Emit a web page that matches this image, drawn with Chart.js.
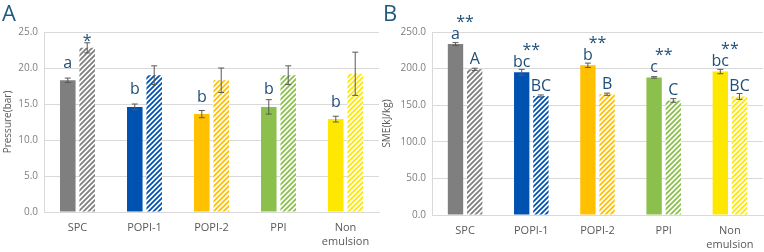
<!DOCTYPE html>
<html>
<head>
<meta charset="utf-8">
<script src="https://cdn.jsdelivr.net/npm/chart.js@4/dist/chart.umd.min.js"></script>
<style>
  body { margin: 0; background: #fff; }
  #wrap { position: relative; width: 764px; height: 252px; overflow: hidden; }
  canvas { position: absolute; top: 0; }
  .panel { position: absolute; top: -3px; font: 22px "Open Sans", sans-serif; color: #1e5a7e; }
</style>
</head>
<body>
<div id="wrap">
  <canvas id="pressureChart" width="380" height="252" style="left:0"></canvas>
  <canvas id="smeChart" width="384" height="252" style="left:380px"></canvas>
  <div class="panel" style="left:2px">A</div>
  <div class="panel" style="left:383px">B</div>
</div>
<script>
const categories = ["SPC", "POPI-1", "POPI-2", "PPI", ["Non", "emulsion"]];
const barColors = ["#7f7f7f", "#0052b0", "#ffc000", "#8cc04c", "#ffe800"];

// Pressure (bar)
const pressureSolid = [18.3, 14.6, 13.6, 14.6, 12.9];
const pressureSolidErr = [0.3, 0.4, 0.5, 1.0, 0.4];
const pressureHatched = [22.8, 19.0, 18.3, 19.0, 19.2];
const pressureHatchedErr = [0.7, 1.3, 1.7, 1.3, 3.0];
const pressureLettersSolid = ["a", "b", "b", "b", "b"];
const pressureLettersHatched = ["*", "", "", "", ""];
const pressureTicks = [0, 5, 10, 15, 20, 25];

// SME (kJ/kg)
const smeSolid = [233.5, 195, 204.5, 188, 196];
const smeSolidErr = [2, 4, 3, 1, 3];
const smeHatched = [199, 162.5, 165, 156.5, 162];
const smeHatchedErr = [1.5, 1.5, 1.5, 2.5, 4];
const smeLettersSolid = ["a", "bc", "b", "c", "bc"];
const smeLettersHatched = ["A", "BC", "B", "C", "BC"];
const smeStars = ["**", "**", "**", "**", "**"];
const smeTicks = [0, 50, 100, 150, 200, 250];

const FONT = "'Open Sans', sans-serif";
const LETTER = "#1f4e79";

function hatch(color) {
  const s = 5;
  const c = document.createElement("canvas");
  c.width = s; c.height = s;
  const g = c.getContext("2d");
  g.fillStyle = "#fff";
  g.fillRect(0, 0, s, s);
  g.strokeStyle = color;
  g.lineWidth = 1.8;
  g.beginPath();
  g.moveTo(0, s); g.lineTo(s, 0);
  g.moveTo(-1, 1); g.lineTo(1, -1);
  g.moveTo(s - 1, s + 1); g.lineTo(s + 1, s - 1);
  g.stroke();
  return g.createPattern(c, "repeat");
}

// error bars + significance letters
function decor(errs, letters, gaps, stars) {
  return {
    id: "decor",
    afterDatasetsDraw(chart) {
      const ctx = chart.ctx;
      const y = chart.scales.y;
      ctx.save();
      chart.data.datasets.forEach((ds, di) => {
        chart.getDatasetMeta(di).data.forEach((bar, i) => {
          const v = ds.data[i], e = errs[di][i];
          const t = y.getPixelForValue(v + e), b = y.getPixelForValue(v - e);
          ctx.strokeStyle = "#595959";
          ctx.lineWidth = 1;
          ctx.beginPath();
          ctx.moveTo(bar.x, t); ctx.lineTo(bar.x, b);
          ctx.moveTo(bar.x - 3, t); ctx.lineTo(bar.x + 3, t);
          ctx.moveTo(bar.x - 3, b); ctx.lineTo(bar.x + 3, b);
          ctx.stroke();
          const txt = letters[di][i];
          if (txt) {
            ctx.fillStyle = LETTER;
            ctx.font = "16px " + FONT;
            ctx.textAlign = "center";
            ctx.textBaseline = "middle";
            ctx.fillText(txt, bar.x, bar.y - gaps[di]);
          }
        });
      });
      if (stars) {
        const m0 = chart.getDatasetMeta(0).data, m1 = chart.getDatasetMeta(1).data;
        stars.forEach((s, i) => {
          const top = Math.min(m0[i].y, m1[i].y);
          ctx.fillStyle = LETTER;
          ctx.font = "16px " + FONT;
          ctx.textAlign = "center";
          ctx.textBaseline = "middle";
          ctx.fillText(s, chart.scales.x.getPixelForValue(i), top - 22);
        });
      }
      ctx.restore();
    }
  };
}

function makeChart(id, solid, hatched, ticks, title, opts) {
  return new Chart(document.getElementById(id), {
    type: "bar",
    data: {
      labels: categories,
      datasets: [
        { data: solid, backgroundColor: barColors },
        { data: hatched, backgroundColor: barColors.map(hatch) }
      ]
    },
    options: {
      responsive: false,
      animation: false,
      devicePixelRatio: 1,
      categoryPercentage: 0.58,
      barPercentage: 0.8,
      layout: { padding: { top: opts.top, right: 1, left: 0, bottom: 0 } },
      plugins: { legend: { display: false }, tooltip: { enabled: false } },
      scales: {
        x: {
          grid: { display: false, drawTicks: false },
          border: { color: "#d9d9d9" },
          ticks: {
            color: "#595959", font: { family: FONT, size: 11, lineHeight: 1.35 },
            padding: opts.xPad, maxRotation: 0
          },
          afterFit: (s) => { s.height = opts.xHeight; }
        },
        y: {
          min: ticks[0],
          max: ticks[ticks.length - 1],
          afterBuildTicks: (s) => { s.ticks = ticks.map((v) => ({ value: v })); },
          grid: { color: "#d9d9d9", drawTicks: false },
          border: { color: "#d9d9d9" },
          ticks: {
            color: "#7f7f7f", font: { family: FONT, size: 10 }, padding: 6,
            callback: (v) => v.toFixed(1)
          },
          title: {
            display: true, text: title, color: "#595959",
            font: { family: FONT, size: 10 }, padding: { top: opts.titlePad, bottom: 0 }
          },
          afterFit: (s) => { s.width = opts.yWidth; }
        }
      }
    },
    plugins: [opts.plugin]
  });
}

makeChart("pressureChart", pressureSolid, pressureHatched, pressureTicks, "Pressure(bar)", {
  top: 32, xHeight: 40, yWidth: 44, xPad: 8, titlePad: 2,
  plugin: decor([pressureSolidErr, pressureHatchedErr], [pressureLettersSolid, pressureLettersHatched], [17, 6], null)
});

makeChart("smeChart", smeSolid, smeHatched, smeTicks, "SME(kJ/kg)", {
  top: 32, xHeight: 37, yWidth: 52, xPad: 8, titlePad: 1,
  plugin: decor([smeSolidErr, smeHatchedErr], [smeLettersSolid, smeLettersHatched], [10, 10], smeStars)
});
</script>
</body>
</html>
